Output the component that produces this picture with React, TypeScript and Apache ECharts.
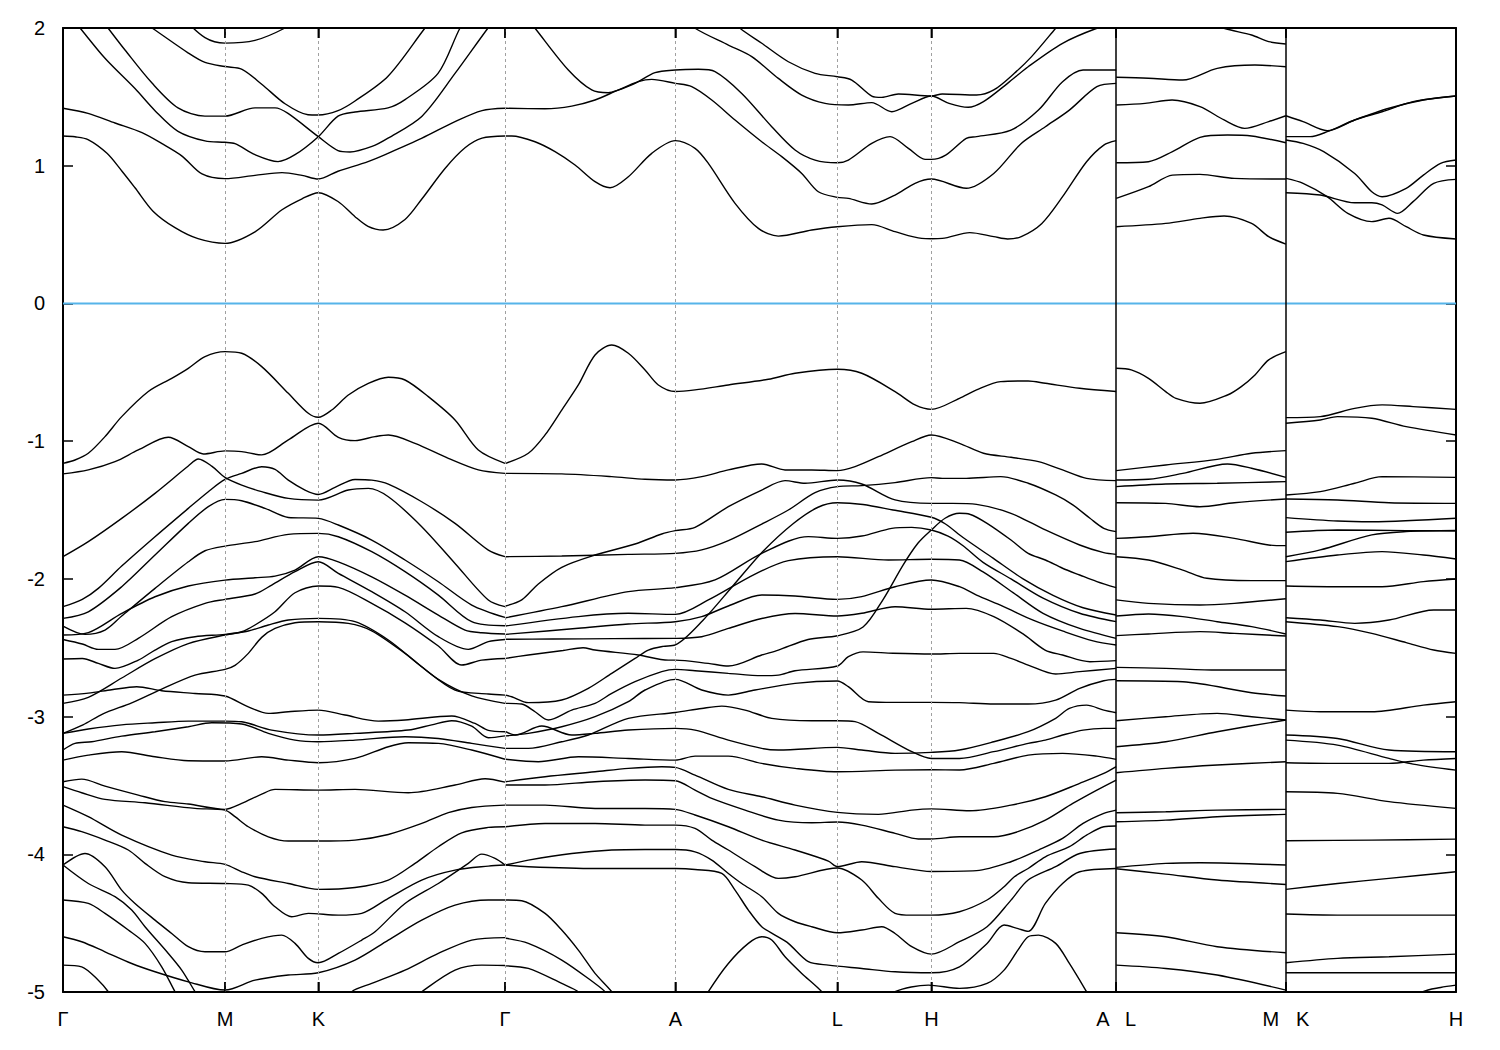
import React, { useEffect, useRef } from "react";
import * as echarts from "echarts";

// ---- k-path ----
const kPos = [0, 1.62, 2.553, 4.42, 6.123, 7.743, 8.683, 10.531, 12.228, 13.929];
const kLabels = ["Γ", "M", "K", "Γ", "A", "L", "H", "A|L", "M|K", "H"];
const energyMin = -5;
const energyMax = 2;
const energyStep = 1;
const fermiLevel = 0;

// ---- Γ-M-K-Γ ----
const conductionGMKG = [
  [[1.19,2.08],[1.42,1.93],[1.62,1.89],[1.92,1.91],[2.22,2.0],[2.32,2.06]],
  [[0.82,2.03],[0.89,2.0],[1.25,1.82],[1.42,1.75],[1.62,1.72],[1.79,1.70],[1.99,1.59],[2.22,1.45],[2.45,1.37],[2.553,1.368],[2.75,1.40],[2.92,1.47],[3.25,1.65],[3.62,2.0],[3.69,2.06]],
  [[0.39,2.06],[0.45,2.0],[0.62,1.84],[0.89,1.60],[1.15,1.42],[1.42,1.36],[1.62,1.36],[1.92,1.42],[2.12,1.42],[2.25,1.38],[2.553,1.211],[2.75,1.11],[2.87,1.10],[3.09,1.14],[3.25,1.20],[3.59,1.36],[3.92,1.67],[4.25,2.0],[4.32,2.06]],
  [[0.10,2.06],[0.17,2.0],[0.42,1.78],[0.72,1.56],[0.92,1.40],[1.15,1.25],[1.42,1.18],[1.62,1.17],[1.72,1.16],[1.92,1.08],[2.15,1.03],[2.32,1.08],[2.553,1.211],[2.75,1.36],[2.92,1.39],[3.25,1.42],[3.42,1.48],[3.75,1.67],[3.97,2.0],[4.04,2.06]],
  [[0,1.417],[0.25,1.38],[0.52,1.31],[0.79,1.24],[0.99,1.16],[1.19,1.07],[1.39,0.94],[1.62,0.906],[1.92,0.93],[2.19,0.95],[2.39,0.93],[2.553,0.903],[2.75,0.96],[3.05,1.03],[3.25,1.09],[3.59,1.20],[3.92,1.32],[4.19,1.40],[4.42,1.417]],
  [[0,1.216],[0.12,1.21],[0.25,1.19],[0.44,1.09],[0.59,0.96],[0.72,0.84],[0.9,0.67],[1.12,0.55],[1.35,0.47],[1.62,0.436],[1.92,0.52],[2.19,0.68],[2.39,0.76],[2.553,0.804],[2.75,0.74],[2.92,0.63],[3.05,0.56],[3.2,0.533],[3.42,0.61],[3.59,0.76],[3.82,0.98],[4.02,1.13],[4.19,1.2],[4.42,1.216]],
];

const valenceGMKG = [
  [[0,-1.161],[0.12,-1.137],[0.253,-1.088],[0.42,-0.967],[0.587,-0.822],[0.853,-0.640],[1.087,-0.544],[1.253,-0.471],[1.42,-0.386],[1.62,-0.350],[1.787,-0.362],[1.987,-0.459],[2.253,-0.653],[2.453,-0.798],[2.553,-0.827],[2.687,-0.774],[2.853,-0.665],[3.053,-0.580],[3.253,-0.536],[3.42,-0.556],[3.653,-0.677],[3.92,-0.846],[4.153,-1.064],[4.42,-1.161]],
  [[0,-1.238],[0.253,-1.209],[0.52,-1.149],[0.753,-1.064],[1.053,-0.972],[1.253,-1.040],[1.403,-1.093],[1.62,-1.071],[1.787,-1.076],[1.987,-1.100],[2.253,-0.991],[2.553,-0.870],[2.753,-0.972],[2.92,-0.996],[3.12,-0.967],[3.253,-0.955],[3.52,-1.016],[3.853,-1.125],[4.153,-1.209],[4.42,-1.234]],
  [[0,-1.839],[0.253,-1.730],[0.587,-1.561],[0.92,-1.379],[1.253,-1.181],[1.353,-1.130],[1.487,-1.181],[1.62,-1.263],[1.787,-1.319],[1.987,-1.367],[2.253,-1.416],[2.553,-1.428],[2.853,-1.355],[3.053,-1.343],[3.253,-1.404],[3.587,-1.621],[3.92,-1.888],[4.253,-2.154],[4.42,-2.202]],
  [[0,-2.202],[0.193,-2.149],[0.353,-2.069],[0.587,-1.907],[0.92,-1.694],[1.253,-1.488],[1.453,-1.367],[1.62,-1.278],[1.787,-1.234],[1.987,-1.186],[2.12,-1.205],[2.253,-1.283],[2.42,-1.355],[2.553,-1.387],[2.72,-1.336],[2.92,-1.278],[3.087,-1.283],[3.253,-1.312],[3.587,-1.440],[3.92,-1.597],[4.253,-1.791],[4.42,-1.839]],
  [[0,-2.287],[0.253,-2.239],[0.587,-2.057],[0.92,-1.827],[1.253,-1.597],[1.453,-1.476],[1.62,-1.423],[1.787,-1.433],[2.02,-1.488],[2.253,-1.554],[2.553,-1.561],[2.753,-1.609],[3.087,-1.718],[3.42,-1.863],[3.753,-2.021],[4.087,-2.190],[4.42,-2.280]],
  [[0,-2.343],[0.22,-2.403],[0.42,-2.372],[0.587,-2.270],[0.92,-2.069],[1.253,-1.876],[1.42,-1.796],[1.62,-1.762],[1.92,-1.730],[2.253,-1.677],[2.553,-1.670],[2.753,-1.694],[3.087,-1.803],[3.42,-1.948],[3.753,-2.118],[4.087,-2.311],[4.42,-2.340]],
  [[0,-2.408],[0.253,-2.391],[0.587,-2.251],[0.92,-2.130],[1.253,-2.052],[1.62,-2.009],[1.92,-1.992],[2.12,-1.980],[2.32,-1.936],[2.553,-1.839],[2.753,-1.876],[3.087,-1.985],[3.42,-2.118],[3.753,-2.263],[4.02,-2.372],[4.187,-2.391],[4.42,-2.400]],
  [[0,-2.440],[0.193,-2.473],[0.353,-2.512],[0.52,-2.512],[0.753,-2.432],[1.087,-2.275],[1.42,-2.178],[1.62,-2.149],[1.92,-2.110],[2.087,-2.045],[2.32,-1.948],[2.553,-1.876],[2.753,-1.960],[3.087,-2.093],[3.42,-2.239],[3.753,-2.420],[4.053,-2.512],[4.253,-2.456],[4.42,-2.440]],
  [[0,-2.582],[0.193,-2.578],[0.353,-2.614],[0.52,-2.650],[0.753,-2.590],[0.92,-2.517],[1.087,-2.456],[1.32,-2.420],[1.62,-2.403],[1.787,-2.384],[1.92,-2.335],[2.12,-2.239],[2.32,-2.101],[2.553,-2.052],[2.753,-2.062],[3.087,-2.178],[3.42,-2.319],[3.753,-2.488],[3.987,-2.626],[4.187,-2.590],[4.42,-2.578]],
  [[0,-2.904],[0.253,-2.86],[0.587,-2.72],[0.92,-2.58],[1.253,-2.47],[1.62,-2.408],[1.853,-2.379],[2.053,-2.335],[2.253,-2.299],[2.553,-2.287],[2.92,-2.311],[3.253,-2.444],[3.587,-2.638],[3.92,-2.808],[4.253,-2.836],[4.42,-2.844]],
  [[0,-3.122],[0.2,-3.06],[0.4,-2.98],[0.687,-2.90],[0.987,-2.80],[1.32,-2.699],[1.62,-2.657],[1.72,-2.628],[1.853,-2.541],[1.987,-2.425],[2.12,-2.360],[2.32,-2.319],[2.553,-2.311],[2.853,-2.323],[3.087,-2.377],[3.42,-2.541],[3.753,-2.730],[4.087,-2.850],[4.42,-2.904]],
  [[0,-2.844],[0.253,-2.830],[0.487,-2.805],[0.737,-2.783],[0.987,-2.812],[1.32,-2.832],[1.62,-2.851],[1.853,-2.929],[2.053,-2.977],[2.253,-2.965],[2.553,-2.953],[2.82,-2.989],[3.153,-3.033],[3.42,-3.025],[3.887,-2.996],[4.12,-3.050],[4.253,-3.10],[4.42,-3.11]],
  [[0,-3.122],[0.253,-3.09],[0.587,-3.06],[0.92,-3.045],[1.253,-3.033],[1.62,-3.033],[1.787,-3.038],[2.087,-3.098],[2.553,-3.134],[2.92,-3.122],[3.453,-3.098],[3.687,-3.060],[3.887,-3.03],[4.087,-3.07],[4.253,-3.154],[4.42,-3.14]],
  [[0,-3.243],[0.12,-3.195],[0.287,-3.183],[0.587,-3.142],[0.92,-3.110],[1.253,-3.074],[1.487,-3.045],[1.787,-3.054],[2.053,-3.122],[2.32,-3.171],[2.553,-3.183],[2.92,-3.171],[3.42,-3.146],[3.753,-3.159],[4.087,-3.195],[4.42,-3.231]],
  [[0,-3.316],[0.253,-3.280],[0.587,-3.255],[0.92,-3.292],[1.253,-3.321],[1.62,-3.323],[1.987,-3.292],[2.253,-3.316],[2.553,-3.335],[2.92,-3.304],[3.253,-3.219],[3.453,-3.190],[3.753,-3.195],[4.087,-3.243],[4.42,-3.31]],
  [[0,-3.473],[0.187,-3.454],[0.42,-3.505],[0.753,-3.570],[1.02,-3.618],[1.253,-3.635],[1.62,-3.674],[1.787,-3.631],[1.987,-3.563],[2.12,-3.529],[2.553,-3.534],[2.92,-3.529],[3.453,-3.553],[3.92,-3.497],[4.22,-3.451],[4.42,-3.476]],
  [[0,-3.509],[0.187,-3.553],[0.42,-3.601],[0.82,-3.626],[1.32,-3.667],[1.62,-3.679],[1.72,-3.727],[1.853,-3.800],[2.053,-3.873],[2.253,-3.904],[2.553,-3.904],[2.92,-3.897],[3.253,-3.856],[3.587,-3.776],[3.853,-3.698],[4.087,-3.660],[4.42,-3.643]],
  [[0,-3.643],[0.253,-3.727],[0.587,-3.861],[1.087,-4.006],[1.42,-4.054],[1.62,-4.073],[1.787,-4.127],[1.92,-4.163],[2.253,-4.212],[2.553,-4.255],[2.92,-4.241],[3.253,-4.187],[3.52,-4.066],[3.753,-3.945],[3.987,-3.844],[4.253,-3.805],[4.42,-3.800]],
  [[0,-3.800],[0.187,-3.836],[0.42,-3.897],[0.653,-3.969],[0.82,-4.066],[1.02,-4.163],[1.253,-4.207],[1.62,-4.212],[1.853,-4.224],[1.987,-4.284],[2.12,-4.381],[2.287,-4.454],[2.453,-4.429],[2.753,-4.442],[2.987,-4.429],[3.253,-4.320],[3.587,-4.187],[3.92,-4.115],[4.253,-4.086],[4.42,-4.078]],
  [[0,-4.078],[0.22,-3.994],[0.42,-4.090],[0.587,-4.260],[0.72,-4.357],[0.92,-4.478],[1.087,-4.575],[1.253,-4.671],[1.42,-4.708],[1.62,-4.708],[1.787,-4.659],[1.987,-4.611],[2.187,-4.587],[2.32,-4.647],[2.453,-4.756],[2.553,-4.788],[2.753,-4.720],[2.987,-4.623],[3.12,-4.563],[3.42,-4.357],[3.753,-4.212],[4.053,-4.066],[4.187,-3.999],[4.32,-4.030],[4.42,-4.078]],
  [[0,-4.078],[0.253,-4.212],[0.52,-4.308],[0.687,-4.405],[0.82,-4.526],[1.053,-4.720],[1.187,-4.841],[1.32,-4.998],[1.387,-5.08]],
  [[0,-4.332],[0.253,-4.357],[0.42,-4.429],[0.653,-4.550],[0.82,-4.647],[0.987,-4.817],[1.12,-4.998],[1.187,-5.08]],
  [[0,-4.599],[0.187,-4.635],[0.42,-4.708],[0.687,-4.793],[0.92,-4.853],[1.253,-4.926],[1.62,-4.986],[1.92,-4.914],[2.253,-4.877],[2.553,-4.860],[2.92,-4.768],[3.253,-4.623],[3.587,-4.478],[3.92,-4.369],[4.253,-4.332],[4.42,-4.332]],
  [[2.853,-5.08],[2.887,-4.998],[3.087,-4.938],[3.42,-4.841],[3.753,-4.720],[4.087,-4.623],[4.42,-4.605]],
  [[3.45,-5.08],[3.587,-4.998],[3.92,-4.841],[4.187,-4.805],[4.42,-4.808]],
  [[0,-4.805],[0.187,-4.817],[0.353,-4.914],[0.453,-4.998],[0.52,-5.08]],
];

// ---- Γ-A-L-H-A ----
const conductionGALHA = [
  [[4.427,1.216],[4.487,1.216],[4.72,1.174],[4.92,1.102],[5.12,1.005],[5.32,0.884],[5.47,0.840],[5.653,0.920],[5.887,1.090],[6.123,1.182],[6.32,1.126],[6.453,1.017],[6.72,0.727],[6.953,0.545],[7.153,0.489],[7.487,0.533],[7.743,0.557],[8.087,0.572],[8.32,0.521],[8.587,0.472],[8.683,0.470],[8.792,0.472],[9.067,0.514],[9.307,0.485],[9.445,0.468],[9.582,0.485],[9.788,0.581],[9.995,0.775],[10.235,1.029],[10.407,1.150],[10.531,1.182]],
  [[4.427,1.417],[4.82,1.414],[5.087,1.433],[5.32,1.477],[5.537,1.545],[5.753,1.610],[5.887,1.627],[6.123,1.598],[6.287,1.574],[6.487,1.477],[6.72,1.332],[6.987,1.174],[7.187,1.066],[7.387,0.944],[7.553,0.811],[7.743,0.770],[7.853,0.763],[8.087,0.722],[8.32,0.787],[8.52,0.872],[8.683,0.903],[9.032,0.836],[9.307,0.944],[9.582,1.162],[9.823,1.283],[10.063,1.404],[10.338,1.574],[10.531,1.598]],
  [[4.653,2.058],[4.72,1.998],[5.053,1.695],[5.287,1.550],[5.453,1.530],[5.537,1.545],[5.72,1.598],[5.92,1.676],[6.123,1.695],[6.353,1.700],[6.52,1.683],[6.787,1.525],[7.087,1.283],[7.32,1.114],[7.52,1.041],[7.743,1.022],[7.853,1.041],[8.087,1.162],[8.27,1.211],[8.453,1.126],[8.62,1.046],[8.683,1.046],[8.826,1.077],[9.032,1.199],[9.135,1.211],[9.479,1.259],[9.754,1.404],[9.995,1.610],[10.2,1.695],[10.531,1.695]],
  [[6.253,2.058],[6.32,1.998],[6.653,1.876],[6.887,1.792],[7.153,1.634],[7.387,1.513],[7.62,1.453],[7.853,1.441],[8.087,1.458],[8.287,1.392],[8.487,1.453],[8.683,1.506],[8.86,1.453],[9.05,1.424],[9.204,1.465],[9.445,1.598],[9.651,1.719],[9.995,1.889],[10.338,1.998],[10.531,2.034]],
  [[6.703,2.058],[6.77,1.998],[6.987,1.889],[7.253,1.755],[7.52,1.671],[7.743,1.646],[7.887,1.622],[8.087,1.506],[8.187,1.496],[8.353,1.521],[8.683,1.506],[8.792,1.521],[9.135,1.513],[9.307,1.550],[9.513,1.671],[9.685,1.792],[9.926,1.998],[9.995,2.058]],
];

const valenceGALHA = [
  [[4.427,-1.161],[4.653,-1.088],[4.82,-0.955],[4.987,-0.774],[5.153,-0.592],[5.32,-0.374],[5.487,-0.302],[5.653,-0.362],[5.82,-0.483],[5.953,-0.592],[6.123,-0.640],[6.32,-0.628],[6.653,-0.592],[7.053,-0.551],[7.32,-0.507],[7.743,-0.478],[7.987,-0.507],[8.32,-0.640],[8.52,-0.737],[8.683,-0.769],[8.964,-0.689],[9.135,-0.628],[9.376,-0.568],[9.651,-0.563],[9.823,-0.580],[10.166,-0.616],[10.531,-0.640]],
  [[4.427,-1.234],[4.987,-1.238],[5.487,-1.258],[5.82,-1.277],[6.123,-1.282],[6.387,-1.258],[6.653,-1.209],[6.987,-1.166],[7.22,-1.209],[7.487,-1.209],[7.743,-1.214],[7.92,-1.185],[8.153,-1.113],[8.487,-1.004],[8.683,-0.955],[8.964,-1.016],[9.204,-1.088],[9.479,-1.117],[9.754,-1.149],[9.995,-1.209],[10.235,-1.270],[10.531,-1.287]],
  [[4.427,-2.197],[4.587,-2.153],[4.753,-2.037],[4.987,-1.916],[5.32,-1.827],[5.72,-1.747],[5.987,-1.674],[6.123,-1.650],[6.32,-1.626],[6.653,-1.476],[6.987,-1.355],[7.22,-1.287],[7.42,-1.306],[7.743,-1.282],[7.987,-1.311],[8.32,-1.427],[8.683,-1.452],[8.895,-1.452],[9.135,-1.459],[9.479,-1.524],[9.823,-1.645],[10.166,-1.754],[10.407,-1.810],[10.531,-1.822]],
  [[4.427,-1.839],[4.987,-1.834],[5.653,-1.822],[6.123,-1.815],[6.387,-1.790],[6.653,-1.723],[6.987,-1.602],[7.253,-1.500],[7.52,-1.374],[7.743,-1.330],[7.987,-1.323],[8.32,-1.301],[8.683,-1.265],[8.792,-1.270],[9.032,-1.270],[9.376,-1.258],[9.651,-1.306],[9.926,-1.391],[10.097,-1.463],[10.269,-1.560],[10.407,-1.633],[10.531,-1.657]],
  [[4.427,-2.282],[4.987,-2.202],[5.653,-2.093],[6.123,-2.064],[6.52,-2.008],[6.987,-1.815],[7.453,-1.693],[7.743,-1.706],[7.987,-1.689],[8.287,-1.633],[8.487,-1.626],[8.683,-1.645],[8.85,-1.69],[9.0,-1.76],[9.2,-1.88],[9.479,-2.00],[9.8,-2.14],[10.166,-2.25],[10.531,-2.311]],
  [[4.427,-2.342],[5.153,-2.274],[5.653,-2.250],[6.123,-2.258],[6.453,-2.153],[6.92,-1.965],[7.253,-1.868],[7.743,-1.839],[8.253,-1.863],[8.683,-1.858],[8.964,-1.863],[9.2,-1.95],[9.5,-2.10],[9.8,-2.25],[10.166,-2.36],[10.531,-2.432]],
  [[4.427,-2.403],[5.153,-2.359],[5.653,-2.328],[6.123,-2.311],[6.387,-2.274],[6.653,-2.197],[6.987,-2.117],[7.32,-2.124],[7.743,-2.149],[7.987,-2.129],[8.32,-2.057],[8.683,-2.008],[8.964,-2.057],[9.135,-2.118],[9.4,-2.20],[9.7,-2.30],[10.0,-2.38],[10.3,-2.45],[10.531,-2.480]],
  [[4.427,-2.439],[4.9,-2.437],[5.5,-2.434],[6.123,-2.432],[6.387,-2.420],[6.653,-2.360],[6.987,-2.288],[7.32,-2.252],[7.743,-2.270],[7.987,-2.250],[8.32,-2.202],[8.683,-2.221],[9.032,-2.214],[9.307,-2.274],[9.6,-2.40],[9.82,-2.517],[9.995,-2.553],[10.269,-2.602],[10.531,-2.594]],
  [[4.427,-2.844],[4.487,-2.856],[4.653,-2.899],[4.987,-2.880],[5.253,-2.795],[5.487,-2.686],[5.72,-2.578],[5.853,-2.517],[6.0,-2.49],[6.123,-2.48],[6.4,-2.30],[6.7,-2.05],[7.0,-1.80],[7.3,-1.60],[7.55,-1.48],[7.743,-1.447],[8.0,-1.46],[8.3,-1.50],[8.683,-1.553],[8.82,-1.60],[9.0,-1.70],[9.3,-1.85],[9.6,-2.0],[9.9,-2.12],[10.2,-2.21],[10.531,-2.262]],
  [[4.427,-2.577],[4.653,-2.553],[5.0,-2.52],[5.2,-2.50],[5.32,-2.517],[5.753,-2.553],[6.053,-2.590],[6.123,-2.590],[6.453,-2.614],[6.653,-2.633],[6.987,-2.553],[7.153,-2.517],[7.45,-2.44],[7.743,-2.413],[8.0,-2.35],[8.2,-2.15],[8.4,-1.90],[8.55,-1.74],[8.683,-1.645],[8.82,-1.56],[8.964,-1.524],[9.067,-1.531],[9.24,-1.597],[9.479,-1.718],[9.651,-1.815],[9.823,-1.863],[9.995,-1.923],[10.166,-1.972],[10.338,-2.020],[10.531,-2.064]],
  [[4.427,-2.904],[4.587,-2.909],[4.72,-2.965],[4.853,-3.025],[5.087,-2.953],[5.32,-2.904],[5.487,-2.832],[5.72,-2.747],[5.987,-2.674],[6.123,-2.657],[6.32,-2.667],[6.653,-2.686],[6.987,-2.703],[7.153,-2.699],[7.32,-2.667],[7.743,-2.633],[7.853,-2.565],[8.0,-2.53],[8.3,-2.54],[8.683,-2.546],[8.964,-2.541],[9.307,-2.541],[9.479,-2.578],[9.651,-2.626],[9.926,-2.691],[10.166,-2.674],[10.531,-2.650]],
  [[4.427,-3.14],[4.653,-3.122],[4.987,-3.074],[5.32,-3.001],[5.653,-2.892],[5.82,-2.807],[6.123,-2.730],[6.387,-2.807],[6.653,-2.844],[6.92,-2.807],[7.32,-2.759],[7.743,-2.742],[7.853,-2.783],[8.053,-2.892],[8.32,-2.897],[8.683,-2.897],[8.964,-2.899],[9.307,-2.909],[9.651,-2.909],[9.926,-2.880],[10.166,-2.795],[10.407,-2.740],[10.531,-2.730]],
  [[4.427,-3.11],[4.52,-3.134],[4.787,-3.069],[5.087,-3.134],[5.32,-3.122],[5.653,-3.098],[6.123,-3.086],[6.32,-3.098],[6.653,-3.171],[6.987,-3.231],[7.153,-3.243],[7.743,-3.224],[7.987,-3.243],[8.32,-3.267],[8.683,-3.260],[8.964,-3.243],[9.307,-3.183],[9.651,-3.110],[9.926,-3.013],[10.063,-2.941],[10.235,-2.917],[10.407,-2.953],[10.531,-2.972]],
  [[4.427,-3.231],[4.653,-3.231],[4.987,-3.183],[5.253,-3.134],[5.653,-3.013],[6.123,-2.970],[6.387,-2.941],[6.587,-2.924],[6.82,-2.953],[7.087,-3.013],[7.487,-3.030],[7.743,-3.030],[7.92,-3.037],[8.153,-3.122],[8.487,-3.255],[8.683,-3.304],[8.964,-3.304],[9.307,-3.255],[9.651,-3.195],[9.823,-3.171],[9.995,-3.134],[10.2,-3.098],[10.407,-3.086],[10.531,-3.086]],
  [[4.427,-3.31],[4.753,-3.328],[5.153,-3.292],[5.653,-3.304],[6.123,-3.316],[6.32,-3.287],[6.653,-3.287],[6.987,-3.340],[7.32,-3.376],[7.743,-3.401],[8.32,-3.389],[8.683,-3.386],[8.964,-3.388],[9.307,-3.340],[9.651,-3.280],[9.995,-3.267],[10.338,-3.287],[10.531,-3.311]],
  [[4.427,-3.473],[4.82,-3.437],[5.32,-3.401],[5.653,-3.376],[5.987,-3.364],[6.123,-3.369],[6.32,-3.425],[6.653,-3.529],[6.987,-3.582],[7.32,-3.643],[7.743,-3.696],[8.153,-3.710],[8.487,-3.679],[8.683,-3.670],[9.067,-3.684],[9.479,-3.643],[9.823,-3.582],[10.166,-3.485],[10.407,-3.413],[10.531,-3.364]],
  [[4.427,-3.497],[4.82,-3.497],[5.32,-3.473],[5.82,-3.461],[6.123,-3.466],[6.32,-3.534],[6.487,-3.594],[6.82,-3.679],[7.153,-3.752],[7.487,-3.771],[7.743,-3.766],[7.987,-3.788],[8.32,-3.848],[8.553,-3.889],[8.683,-3.889],[8.964,-3.873],[9.307,-3.873],[9.548,-3.836],[9.823,-3.752],[10.097,-3.631],[10.338,-3.534],[10.531,-3.461]],
  [[4.427,-3.643],[4.82,-3.643],[5.32,-3.667],[5.82,-3.667],[6.123,-3.674],[6.32,-3.715],[6.653,-3.800],[6.987,-3.897],[7.32,-3.969],[7.653,-4.049],[7.743,-4.090],[7.987,-4.054],[8.32,-4.090],[8.683,-4.125],[9.135,-4.119],[9.479,-4.054],[9.754,-3.969],[9.995,-3.885],[10.2,-3.776],[10.407,-3.703],[10.531,-3.679]],
  [[4.427,-3.800],[4.82,-3.776],[5.32,-3.776],[5.82,-3.788],[6.123,-3.788],[6.32,-3.812],[6.487,-3.897],[6.653,-3.969],[6.92,-4.090],[7.153,-4.175],[7.32,-4.163],[7.743,-4.100],[7.987,-4.187],[8.153,-4.320],[8.32,-4.429],[8.487,-4.442],[8.683,-4.442],[8.964,-4.417],[9.24,-4.332],[9.41,-4.236],[9.513,-4.163],[9.651,-4.103],[9.823,-4.018],[10.063,-3.945],[10.235,-3.861],[10.407,-3.800],[10.531,-3.795]],
  [[4.427,-4.078],[4.653,-4.042],[5.087,-3.994],[5.487,-3.969],[5.82,-3.965],[6.123,-3.965],[6.32,-3.982],[6.487,-4.042],[6.653,-4.139],[6.787,-4.212],[6.987,-4.308],[7.153,-4.429],[7.32,-4.490],[7.487,-4.526],[7.743,-4.570],[7.987,-4.550],[8.187,-4.526],[8.32,-4.575],[8.487,-4.671],[8.683,-4.725],[8.964,-4.635],[9.24,-4.526],[9.479,-4.333],[9.651,-4.187],[9.926,-4.090],[10.166,-3.994],[10.531,-3.962]],
  [[4.427,-4.078],[4.653,-4.090],[5.32,-4.103],[6.123,-4.103],[6.32,-4.110],[6.587,-4.139],[6.72,-4.260],[6.853,-4.405],[6.987,-4.526],[7.12,-4.587],[7.253,-4.647],[7.453,-4.780],[7.653,-4.805],[7.987,-4.829],[8.32,-4.853],[8.683,-4.860],[8.964,-4.817],[9.24,-4.647],[9.41,-4.514],[9.55,-4.540],[9.651,-4.560],[9.823,-4.357],[9.995,-4.212],[10.166,-4.127],[10.531,-4.103]],
  [[6.4,-5.08],[6.453,-4.998],[6.653,-4.793],[6.853,-4.647],[6.987,-4.599],[7.087,-4.623],[7.22,-4.744],[7.387,-4.865],[7.587,-4.998],[7.65,-5.08]],
  [[4.427,-4.332],[4.587,-4.337],[4.82,-4.429],[4.987,-4.550],[5.153,-4.696],[5.32,-4.865],[5.487,-4.998],[5.55,-5.08]],
  [[4.427,-4.61],[4.653,-4.647],[4.987,-4.768],[5.32,-4.938],[5.42,-4.998],[5.5,-5.08]],
  [[4.427,-4.81],[4.653,-4.829],[4.987,-4.938],[5.153,-4.998],[5.25,-5.08]],
  [[8.25,-5.08],[8.32,-4.998],[8.653,-4.950],[8.964,-4.974],[9.24,-4.938],[9.41,-4.841],[9.548,-4.696],[9.651,-4.599],[9.754,-4.587],[9.926,-4.647],[10.063,-4.793],[10.235,-4.998],[10.3,-5.08]],
];

// ---- L-M ----
const conductionLM = [
  [[10.531,1.642],[10.854,1.635],[11.197,1.622],[11.541,1.707],[11.919,1.731],[12.228,1.719]],
  [[10.531,1.441],[10.82,1.453],[11.09,1.477],[11.369,1.429],[11.61,1.332],[11.816,1.271],[12.056,1.320],[12.228,1.363]],
  [[10.531,1.022],[10.854,1.029],[11.094,1.102],[11.369,1.206],[11.644,1.223],[11.885,1.216],[12.228,1.167]],
  [[10.531,0.763],[10.854,0.848],[11.094,0.932],[11.369,0.937],[11.713,0.908],[12.228,0.903]],
  [[10.531,0.557],[11.026,0.581],[11.369,0.618],[11.61,0.635],[11.885,0.581],[12.056,0.485],[12.228,0.431]],
  [[11.4,2.06],[11.61,1.998],[11.885,1.949],[12.056,1.901],[12.228,1.884]],
];

const valenceLM = [
  [[10.531,-0.471],[10.682,-0.483],[10.854,-0.544],[11.026,-0.640],[11.129,-0.689],[11.369,-0.725],[11.644,-0.665],[11.782,-0.604],[11.919,-0.519],[12.056,-0.410],[12.228,-0.350]],
  [[10.531,-1.214],[11.026,-1.173],[11.541,-1.132],[11.885,-1.088],[12.228,-1.069]],
  [[10.531,-1.282],[10.854,-1.277],[11.197,-1.234],[11.644,-1.166],[11.885,-1.197],[12.228,-1.263]],
  [[10.531,-1.330],[11.026,-1.311],[11.541,-1.306],[12.228,-1.294]],
  [[10.531,-1.447],[11.026,-1.452],[11.369,-1.476],[11.713,-1.447],[12.228,-1.420]],
  [[10.531,-1.706],[10.854,-1.694],[11.3,-1.669],[11.713,-1.706],[12.056,-1.754],[12.228,-1.759]],
  [[10.531,-1.839],[10.854,-1.863],[11.197,-1.936],[11.438,-1.996],[11.885,-2.013],[12.228,-2.013]],
  [[10.531,-2.153],[10.854,-2.178],[11.369,-2.190],[11.713,-2.178],[12.228,-2.144]],
  [[10.531,-2.270],[10.854,-2.255],[11.197,-2.274],[11.541,-2.311],[11.885,-2.347],[12.228,-2.400]],
  [[10.531,-2.412],[10.854,-2.400],[11.369,-2.383],[11.713,-2.396],[12.228,-2.415]],
  [[10.531,-2.643],[11.026,-2.650],[11.541,-2.662],[12.228,-2.662]],
  [[10.531,-2.740],[11.197,-2.747],[11.885,-2.827],[12.228,-2.851]],
  [[10.531,-3.030],[11.026,-3.001],[11.541,-2.977],[11.885,-3.001],[12.228,-3.025]],
  [[10.531,-3.219],[11.026,-3.183],[11.541,-3.110],[12.228,-3.025]],
  [[10.531,-3.408],[11.026,-3.376],[11.541,-3.352],[12.228,-3.328]],
  [[10.531,-3.698],[11.026,-3.691],[11.541,-3.679],[12.228,-3.674]],
  [[10.531,-3.764],[11.026,-3.752],[11.541,-3.727],[12.228,-3.710]],
  [[10.531,-4.095],[11.026,-4.066],[11.369,-4.061],[12.228,-4.078]],
  [[10.531,-4.105],[11.026,-4.144],[11.541,-4.187],[12.228,-4.219]],
  [[10.531,-4.570],[11.026,-4.599],[11.541,-4.671],[12.228,-4.715]],
  [[10.531,-4.805],[11.026,-4.829],[11.541,-4.877],[12.228,-4.986]],
];

// ---- K-H ----
const conductionKH = [
  [[12.228,1.363],[12.4,1.320],[12.641,1.254],[12.916,1.332],[13.259,1.417],[13.603,1.477],[13.929,1.506]],
  [[12.228,1.211],[12.47,1.211],[12.641,1.247],[12.916,1.332],[13.19,1.392],[13.5,1.465],[13.929,1.506]],
  [[12.228,1.187],[12.4,1.162],[12.606,1.102],[12.916,0.944],[13.087,0.811],[13.19,0.775],[13.431,0.836],[13.603,0.932],[13.775,1.017],[13.929,1.041]],
  [[12.228,0.908],[12.4,0.872],[12.641,0.775],[12.847,0.654],[13.087,0.594],[13.259,0.618],[13.431,0.557],[13.603,0.497],[13.929,0.468]],
  [[12.228,0.804],[12.572,0.787],[12.916,0.731],[13.087,0.731],[13.19,0.715],[13.345,0.654],[13.5,0.739],[13.706,0.872],[13.929,0.901]],
];

const valenceKH = [
  [[12.228,-0.829],[12.572,-0.822],[12.916,-0.762],[13.19,-0.737],[13.5,-0.749],[13.929,-0.769]],
  [[12.228,-0.870],[12.572,-0.846],[12.744,-0.822],[13.087,-0.834],[13.431,-0.895],[13.929,-0.955]],
  [[12.228,-1.391],[12.572,-1.367],[12.916,-1.306],[13.19,-1.258],[13.929,-1.263]],
  [[12.228,-1.420],[12.744,-1.427],[13.259,-1.447],[13.929,-1.452]],
  [[12.228,-1.555],[12.744,-1.580],[13.087,-1.585],[13.929,-1.560]],
  [[12.228,-1.662],[12.744,-1.645],[13.431,-1.650],[13.929,-1.652]],
  [[12.228,-1.839],[12.572,-1.790],[13.087,-1.681],[13.431,-1.657],[13.929,-1.648]],
  [[12.228,-1.875],[12.744,-1.827],[13.19,-1.802],[13.603,-1.827],[13.929,-1.856]],
  [[12.228,-2.052],[12.744,-2.057],[13.19,-2.057],[13.603,-2.020],[13.929,-2.001]],
  [[12.228,-2.282],[12.572,-2.299],[12.916,-2.323],[13.259,-2.299],[13.706,-2.226],[13.929,-2.226]],
  [[12.228,-2.311],[12.744,-2.347],[13.087,-2.396],[13.431,-2.463],[13.706,-2.517],[13.929,-2.541]],
  [[12.228,-2.953],[12.572,-2.965],[13.087,-2.965],[13.603,-2.917],[13.929,-2.892]],
  [[12.228,-3.134],[12.744,-3.159],[13.259,-3.243],[13.929,-3.255]],
  [[12.228,-3.171],[12.744,-3.207],[13.259,-3.304],[13.5,-3.345],[13.929,-3.389]],
  [[12.228,-3.335],[12.744,-3.340],[13.259,-3.340],[13.603,-3.316],[13.929,-3.304]],
  [[12.228,-3.546],[12.744,-3.558],[13.259,-3.618],[13.929,-3.667]],
  [[12.228,-3.902],[13.087,-3.897],[13.929,-3.890]],
  [[12.228,-4.255],[12.744,-4.212],[13.259,-4.175],[13.929,-4.127]],
  [[12.228,-4.434],[12.744,-4.442],[13.929,-4.442]],
  [[12.228,-4.788],[12.744,-4.756],[13.259,-4.744],[13.929,-4.725]],
  [[12.228,-4.860],[13.929,-4.860]],
  [[13.5,-5.08],[13.6,-4.998],[13.775,-4.967],[13.929,-4.950]],
];

const FONT = "'Liberation Sans', Arial, Helvetica, sans-serif";

export default function App() {
  const ref = useRef<HTMLDivElement>(null);
  useEffect(() => {
    document.body.style.margin = "0";
    if (!ref.current) return;
    const chart = echarts.init(ref.current, undefined, { renderer: "svg" });
    const kMin = kPos[0];
    const kMax = kPos[kPos.length - 1];
    const labelFor = (v: number) => {
      let best = 0;
      for (let i = 1; i < kPos.length; i++) {
        if (Math.abs(kPos[i] - v) < Math.abs(kPos[best] - v)) best = i;
      }
      return kLabels[best].replace("|", "   ");
    };
    const bands = [
      ...conductionGMKG, ...valenceGMKG,
      ...conductionGALHA, ...valenceGALHA,
      ...conductionLM, ...valenceLM,
      ...conductionKH, ...valenceKH,
    ];
    const bandSeries = bands.map((b) => ({
      type: "line",
      data: b,
      symbol: "none",
      showSymbol: false,
      smooth: 0.3,
      clip: true,
      silent: true,
      z: 3,
      lineStyle: { color: "#000", width: 1.4 },
    }));
    const markData: any[] = [];
    kPos.forEach((k, i) => {
      if (i === 0 || i === kPos.length - 1) return;
      const disc = kLabels[i].includes("|");
      markData.push({
        xAxis: k,
        lineStyle: disc
          ? { color: "#000", width: 1.5, type: "solid" }
          : { color: "#a0a0a0", width: 1, type: [3, 3] },
      });
    });
    const axisLineStyle = { color: "#000", width: 2 };
    const tickStyle = { color: "#000", width: 1.5 };
    const option: any = {
      animation: false,
      backgroundColor: "#fff",
      grid: { left: 63, right: 44, top: 28, bottom: 58, containLabel: false },
      xAxis: [
        {
          type: "value", min: kMin, max: kMax, position: "bottom",
          axisLine: { show: true, onZero: false, lineStyle: axisLineStyle },
          axisTick: { show: true, inside: true, length: 10, customValues: kPos, lineStyle: tickStyle },
          axisLabel: { show: true, customValues: kPos, formatter: (v: number) => labelFor(v), fontSize: 20, color: "#000", margin: 17, fontFamily: FONT },
          splitLine: { show: false },
        },
        {
          type: "value", min: kMin, max: kMax, position: "top",
          axisLine: { show: true, onZero: false, lineStyle: axisLineStyle },
          axisTick: { show: true, inside: true, length: 10, customValues: kPos, lineStyle: tickStyle },
          axisLabel: { show: false },
          splitLine: { show: false },
        },
      ],
      yAxis: [
        {
          type: "value", min: energyMin, max: energyMax, interval: energyStep, position: "left",
          axisLine: { show: true, onZero: false, lineStyle: axisLineStyle },
          axisTick: { show: true, inside: true, length: 10, lineStyle: tickStyle },
          axisLabel: { show: true, fontSize: 20, color: "#000", margin: 18, fontFamily: FONT },
          splitLine: { show: false },
        },
        {
          type: "value", min: energyMin, max: energyMax, interval: energyStep, position: "right",
          axisLine: { show: true, onZero: false, lineStyle: axisLineStyle },
          axisTick: { show: true, inside: true, length: 10, lineStyle: tickStyle },
          axisLabel: { show: false },
          splitLine: { show: false },
        },
      ],
      series: [
        {
          type: "line",
          data: [[kMin, fermiLevel], [kMax, fermiLevel]],
          symbol: "none",
          silent: true,
          z: 2,
          lineStyle: { color: "#56b4e9", width: 2 },
          markLine: {
            silent: true,
            symbol: ["none", "none"],
            label: { show: false },
            animation: false,
            data: markData,
          },
        },
        ...bandSeries,
      ],
    };
    chart.setOption(option);

    // explicit inward ticks at the k-points (top and bottom), placed through the axis scale
    const yTop = chart.convertToPixel({ yAxisIndex: 0 }, energyMax) as number;
    const yBot = chart.convertToPixel({ yAxisIndex: 0 }, energyMin) as number;
    const tickEls: any[] = [];
    kPos.forEach((k) => {
      const x = chart.convertToPixel({ xAxisIndex: 0 }, k) as number;
      tickEls.push({ type: "line", silent: true, z: 10, shape: { x1: x, y1: yBot, x2: x, y2: yBot - 10 }, style: { stroke: "#000", lineWidth: 1.5 } });
      tickEls.push({ type: "line", silent: true, z: 10, shape: { x1: x, y1: yTop, x2: x, y2: yTop + 10 }, style: { stroke: "#000", lineWidth: 1.5 } });
    });
    chart.setOption({ graphic: tickEls });
    return () => chart.dispose();
  }, []);
  return <div ref={ref} style={{ width: 1500, height: 1050 }} />;
}
